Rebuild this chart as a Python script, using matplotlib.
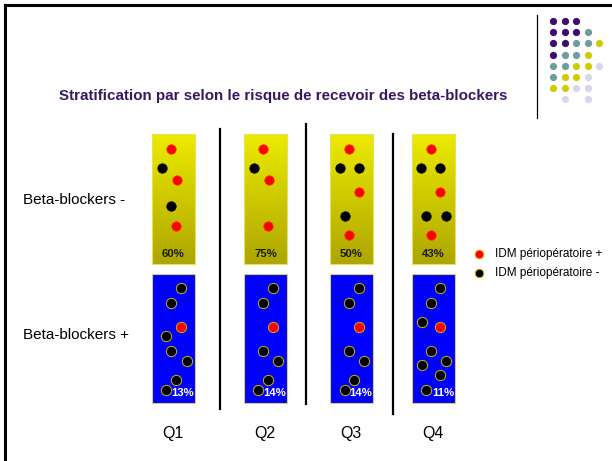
import numpy as np
import matplotlib
matplotlib.use("Agg")
import matplotlib.pyplot as plt
from matplotlib.patches import Rectangle

plt.rcParams['font.family'] = ['Liberation Sans', 'DejaVu Sans']

# data
quartiles = ['Q1', 'Q2', 'Q3', 'Q4']
pct_without = ['60%', '75%', '50%', '43%']   # beta-blockers -
pct_with = ['13%', '14%', '14%', '11%']      # beta-blockers +

# dot layouts inside each panel: (dx, dy, event) ; event 1 = IDM +, 0 = IDM -
dots_without = [
    [(19, 15, 1), (10, 34, 0), (25, 46, 1), (19, 72, 0), (24, 92, 1)],
    [(19, 15, 1), (10, 34, 0), (25, 46, 1), (24, 92, 1)],
    [(19, 15, 1), (10, 34, 0), (29, 34, 0), (29, 58, 1), (15, 82, 0), (19, 101, 1)],
    [(19, 15, 1), (9, 34, 0), (28, 34, 0), (28, 58, 1), (14, 82, 0), (34, 82, 0), (19, 101, 1)],
]
dots_with = [
    [(29, 14, 0), (19, 29, 0), (29, 53, 1), (14, 62, 0), (19, 77, 0), (35, 87, 0), (24, 106, 0), (14, 116, 0)],
    [(29, 14, 0), (19, 29, 0), (29, 53, 1), (19, 77, 0), (34, 87, 0), (24, 106, 0), (14, 116, 0)],
    [(29, 14, 0), (19, 29, 0), (29, 53, 1), (19, 77, 0), (34, 87, 0), (24, 106, 0), (15, 116, 0)],
    [(28, 14, 0), (19, 29, 0), (10, 48, 0), (28, 53, 1), (19, 77, 0), (10, 91, 0), (34, 87, 0), (28, 101, 0), (14, 116, 0)],
]

panel_left = [152, 244, 330, 412]
W, H = 612, 461

fig = plt.figure(figsize=(W / 100, H / 100), dpi=100)
ax = fig.add_axes([0, 0, 1, 1])
ax.set_xlim(0, W)
ax.set_ylim(H, 0)
ax.axis('off')

# slide frame
ax.plot([5, 5], [H, 5], color='black', lw=2.2, solid_capstyle='projecting')
ax.plot([5, W], [5, 5], color='black', lw=2.2, solid_capstyle='projecting')

# decoration top right
deco = [
    'PPP..', 'PPPT.', 'PPTTY', 'PTTY.', 'TTYYL', 'TYYL.', 'YYLL.', '.L.L.',
]
deco_col = {'P': '#3f0d6e', 'T': '#6b9e9c', 'Y': '#cfcc00', 'L': '#d6d6ec'}
ax.plot([537, 537], [15, 118], color='black', lw=0.9)
for r, row in enumerate(deco):
    for c, ch in enumerate(row):
        if ch in deco_col:
            ax.plot(553 + c * 11.5, 21 + r * 11.2, 'o', ms=5.2, color=deco_col[ch], mec='none')

ax.text(283, 96, 'Stratification par selon le risque de recevoir des beta-blockers',
        ha='center', va='center', fontsize=10.9, fontweight='bold', color='#3a1763')

# gradient for yellow panels
grad = np.linspace(0, 1, 256)[:, None]
top = np.array([0.93, 0.92, 0.0])
bot = np.array([0.68, 0.65, 0.0])
gimg = top[None, None, :] * (1 - grad[..., None]) + bot[None, None, :] * grad[..., None]

pw, yt, yh, bt, bh = 43, 134, 130, 274, 129
for i, left in enumerate(panel_left):
    ax.imshow(gimg, extent=[left, left + pw, yt + yh, yt], aspect='auto', zorder=1,
              interpolation='bilinear')
    ax.add_patch(Rectangle((left, yt), pw, yh, fill=False, ec='#e6e060', lw=0.8, zorder=2))
    ax.add_patch(Rectangle((left, bt), pw, bh, fc='#0000ff', ec='#d8d070', lw=0.8, zorder=1))
    for dx, dy, ev in dots_without[i]:
        ax.plot(left + dx, yt + dy, 'o', ms=6.8, zorder=3,
                color='#ff0000' if ev else '#000000',
                mec='#ff3300' if ev else '#000000', mew=0.5)
    for dx, dy, ev in dots_with[i]:
        ax.plot(left + dx, bt + dy, 'o', ms=7.4, zorder=3,
                color='#ff0000' if ev else '#000000', mec='#c8b400', mew=0.7)
    ax.text(left + pw / 2, yt + 120, pct_without[i], ha='center', va='center',
            fontsize=8.2, fontweight='bold', color='#1a1a00', zorder=4)
    ax.text(left + 31, bt + 119, pct_with[i], ha='center', va='center',
            fontsize=8.2, fontweight='bold', color='white', zorder=4)
    ax.text(left + 21, 433, quartiles[i], ha='center', va='center', fontsize=11.5)

# separators
for x, y0, y1 in [(220, 129, 409), (306, 124, 404), (393, 134, 414)]:
    ax.plot([x, x], [y0, y1], color='black', lw=1.6)

ax.text(23, 200, 'Beta-blockers -', ha='left', va='center', fontsize=11)
ax.text(23, 335, 'Beta-blockers +', ha='left', va='center', fontsize=11)

# legend
ax.plot(479, 254, 'o', ms=6.2, color='#ff0000', mec='#ffaa00', mew=0.7)
ax.plot(479, 273, 'o', ms=6.2, color='#000000', mec='#d8c000', mew=0.7)
ax.text(495, 254, 'IDM périopératoire +', ha='left', va='center', fontsize=8.5)
ax.text(495, 273, 'IDM périopératoire -', ha='left', va='center', fontsize=8.5)

fig.savefig('out.png', dpi=100)
